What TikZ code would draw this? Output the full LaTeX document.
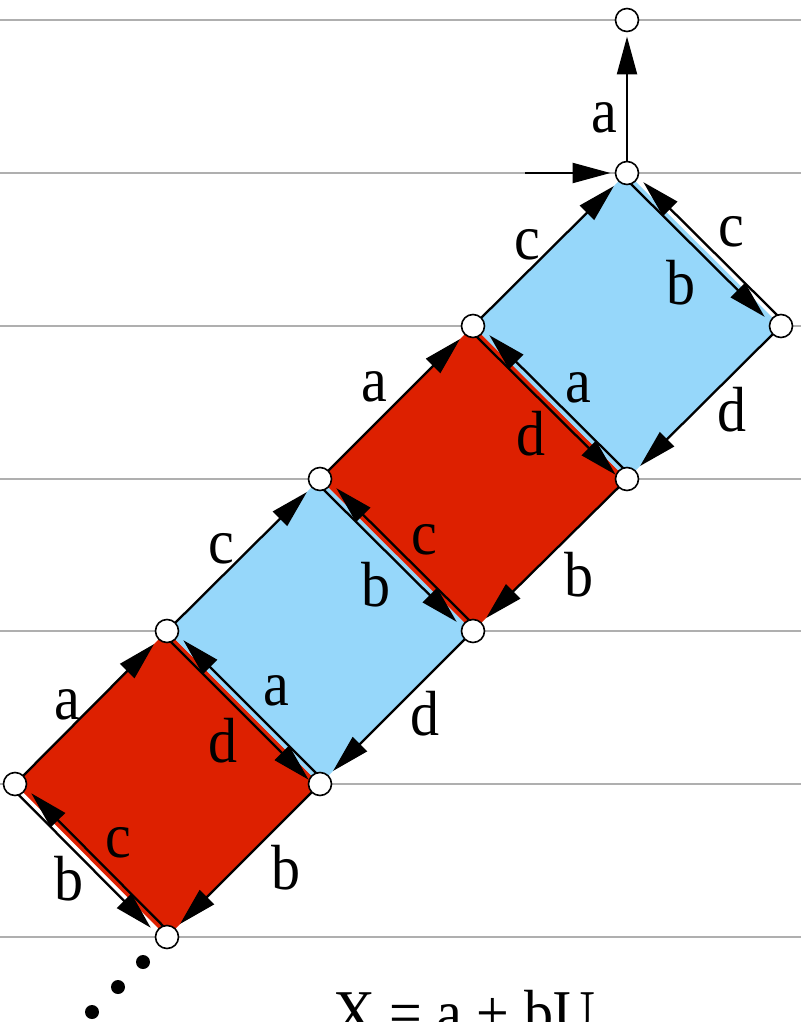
\documentclass[tikz,border=0pt]{standalone}
\usepackage{fontspec}
\setmainfont{Liberation Serif}
\usetikzlibrary{arrows.meta,calc}
\pgfdeclarelayer{bg}
\pgfdeclarelayer{mid}
\pgfsetlayers{bg,mid,main}
\definecolor{sqred}{RGB}{221,32,0}
\definecolor{sqblue}{RGB}{150,215,250}
\definecolor{rulegray}{RGB}{175,175,175}
% offset (twin) edge: from #1 to #2, on the right of travel, tip shortened by #3
\newcommand\twinedge[3]{\draw[edge,shorten >=#3] ($(#1.center)!5pt!-90:(#2.center)$) -- ($(#2.center)!5pt!90:(#1.center)$);}
\begin{document}
\begin{tikzpicture}[x=1pt,y=-1pt,
  vtx/.style={circle,draw,fill=white,line width=1.6pt,minimum size=23pt,inner sep=0pt,outer sep=0pt},
  edge/.style={line width=2.3pt,-{Triangle[length=38pt,width=20pt]}},
  lbl/.style={font=\fontsize{58}{60}\selectfont,inner sep=0pt,yscale=1.1},
  guide/.style={rulegray,line width=2pt},
  dotmark/.style={circle,fill=black,inner sep=0pt,minimum size=14pt}]
\useasboundingbox (0,0) rectangle (801,1022);
\clip (0,0) rectangle (801,1022);

% vertices
\node[vtx] (A) at (627,20) {};
\node[vtx] (B) at (627,173) {};
\node[vtx] (C) at (781,326) {};
\node[vtx] (D) at (473,326) {};
\node[vtx] (E) at (627,479) {};
\node[vtx] (F) at (320,479) {};
\node[vtx] (G) at (473,631) {};
\node[vtx] (H) at (167,631) {};
\node[vtx] (I) at (320,784) {};
\node[vtx] (J) at (15,784) {};
\node[vtx] (K) at (167,937) {};
\coordinate (S) at (525,173);

\begin{pgfonlayer}{bg}
  \foreach \yy in {20,173,326,479,631,784,937}
    \draw[guide] (0,\yy) -- (801,\yy);
  \fill[sqred]  (J.center) -- (H.center) -- (I.center) -- (K.center) -- cycle;
  \fill[sqblue] (H.center) -- (F.center) -- (G.center) -- (I.center) -- cycle;
  \fill[sqred]  (F.center) -- (D.center) -- (E.center) -- (G.center) -- cycle;
  \fill[sqblue] (D.center) -- (B.center) -- (C.center) -- (E.center) -- cycle;
\end{pgfonlayer}

\begin{pgfonlayer}{mid}
  % single edges
  \draw[edge,shorten >=7pt] (J) -- (H);
  \draw[edge,shorten >=7pt] (I) -- (K);
  \draw[edge,shorten >=7pt] (H) -- (F);
  \draw[edge,shorten >=7pt] (G) -- (I);
  \draw[edge,shorten >=7pt] (F) -- (D);
  \draw[edge,shorten >=7pt] (E) -- (G);
  \draw[edge,shorten >=7pt] (D) -- (B);
  \draw[edge,shorten >=7pt] (C) -- (E);
  \draw[edge,shorten >=5pt] (B) -- (A);
  \draw[edge,shorten >=5pt] (S) -- (B);
  % twin edges
  \twinedge{H}{I}{11pt}
  \twinedge{I}{H}{18pt}
  \twinedge{K}{J}{18pt}
  \twinedge{J}{K}{18pt}
  \twinedge{F}{G}{18pt}
  \twinedge{G}{F}{18pt}
  \twinedge{D}{E}{11pt}
  \twinedge{E}{D}{18pt}
  \twinedge{B}{C}{18pt}
  \twinedge{C}{B}{18pt}
\end{pgfonlayer}

% labels
\node[lbl] (la0) at (604,118) {a};
\node[lbl] (lc4) at (527,245) {c};
\node[lbl] (lb4) at (681,283) {b};
\node[lbl] (lc5) at (731,232) {c};
\node[lbl] (ld4) at (732,410) {d};
\node[lbl] (la4) at (578,388) {a};
\node[lbl] (la3) at (374,387) {a};
\node[lbl] (ld3) at (531,434) {d};
\node[lbl] (lc3) at (424,540) {c};
\node[lbl] (lb3) at (579,575) {b};
\node[lbl] (lc2) at (221,549) {c};
\node[lbl] (lb2) at (376,585) {b};
\node[lbl] (ld2) at (425,714) {d};
\node[lbl] (la2) at (276,691) {a};
\node[lbl] (la1) at (67,705) {a};
\node[lbl] (ld1) at (223,741) {d};
\node[lbl] (lc1) at (118,843) {c};
\node[lbl] (lb1) at (286,868) {b};
\node[lbl] (lb0) at (69,879) {b};

% continuation dots
\node[dotmark] (d1) at (143,962) {};
\node[dotmark] (d2) at (118,987) {};
\node[dotmark] (d3) at (92,1012) {};

% formula (cut by the lower edge, as in the reference)
\node[lbl,anchor=base] (eq) at (464,1034) {X = a + bU};
\end{tikzpicture}
\end{document}
